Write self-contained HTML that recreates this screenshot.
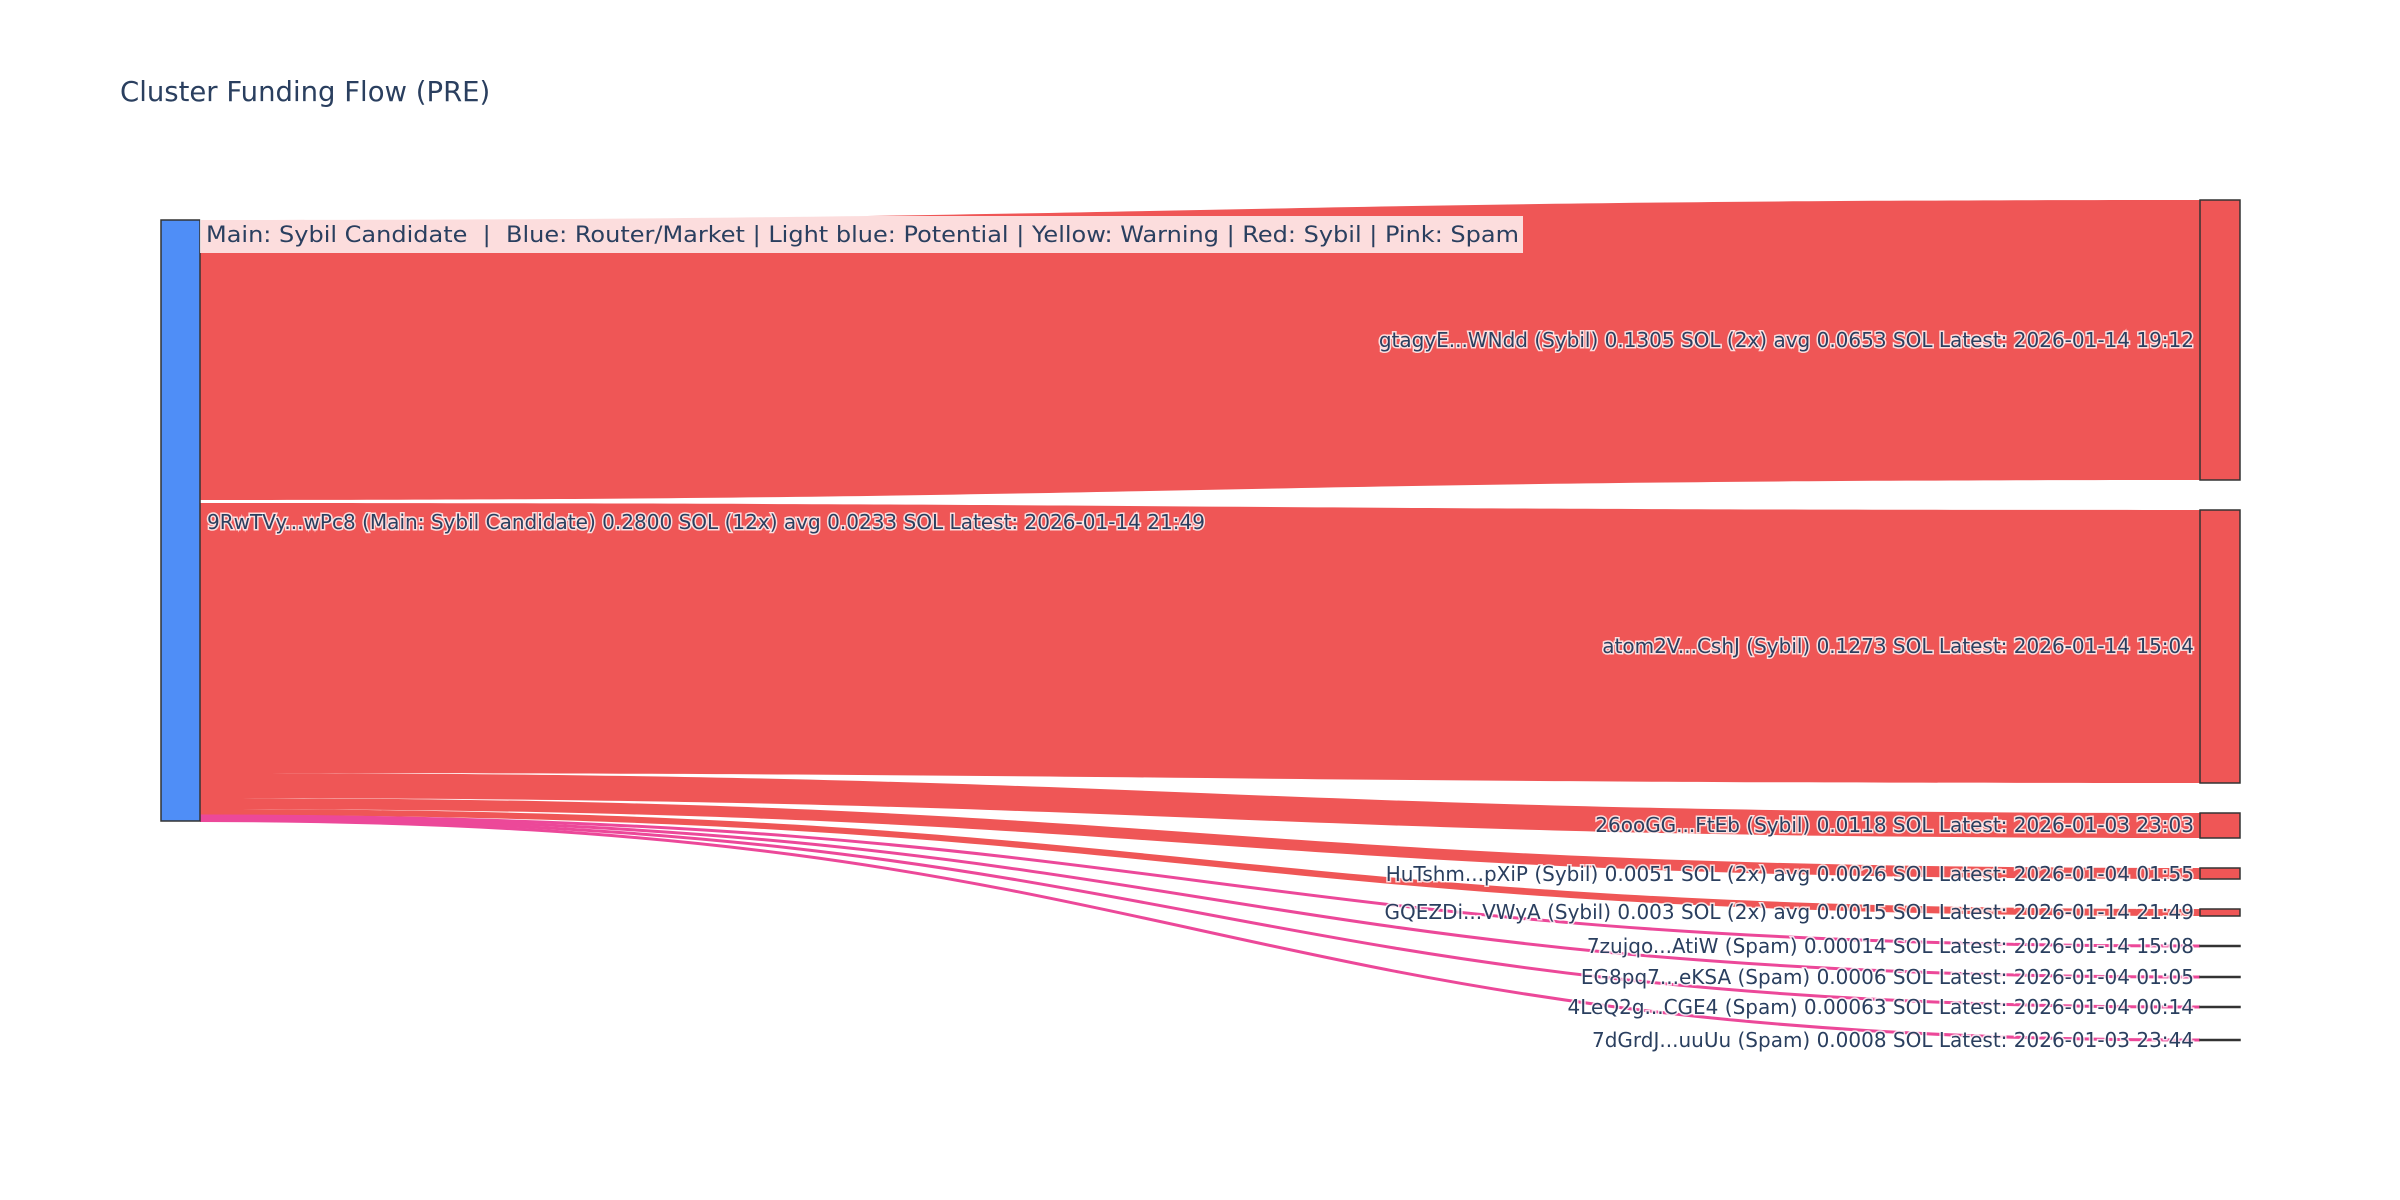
<!DOCTYPE html>
<html><head><meta charset="utf-8"><style>
html,body{margin:0;padding:0;background:#fff;}
svg{display:block;}
text{font-family:"DejaVu Sans","Liberation Sans",sans-serif;fill:#2a3f5f;white-space:pre;}
.lbl{font-size:20px;paint-order:stroke;stroke:#fff;stroke-width:3px;stroke-opacity:0.8;}
</style></head><body>
<svg width="2400" height="1200" viewBox="0 0 2400 1200" xmlns="http://www.w3.org/2000/svg" xml:space="preserve">
<rect width="2400" height="1200" fill="#fff"/>
<text x="120" y="101" font-size="27.5">Cluster Funding Flow (PRE)</text>
<g fill="#EF5656">
<path d="M200,220 C1200,220 1200,200 2200,200 L2200,480 C1200,480 1200,500 200,500 Z"/>
<path d="M200,503 C1200,503 1200,510 2200,510 L2200,783 C1200,783 1200,773 200,773 Z"/>
<path d="M200,773 C1200,773 1200,813 2200,813 L2200,838 C1200,838 1200,798 200,798 Z"/>
<path d="M200,798 C1200,798 1200,868 2200,868 L2200,879 C1200,879 1200,809 200,809 Z"/>
<path d="M200,809 C1200,809 1200,909 2200,909 L2200,916 C1200,916 1200,815 200,815 Z"/>
</g>
<g fill="none" stroke="#EC4899" stroke-width="3">
<path d="M200,816 C1200,816 1200,946 2200,946"/>
<path d="M200,817.5 C1200,817.5 1200,977 2200,977"/>
<path d="M200,819 C1200,819 1200,1007 2200,1007"/>
<path d="M200,820.5 C1200,820.5 1200,1040 2200,1040"/>
</g>
<g stroke="#333" stroke-width="1.5">
<rect x="161" y="220" width="39" height="601" fill="#4F8EF7"/>
<rect x="2200" y="200" width="40" height="280" fill="#EF5656"/>
<rect x="2200" y="510" width="40" height="273" fill="#EF5656"/>
<rect x="2200" y="813" width="40" height="25" fill="#EF5656"/>
<rect x="2200" y="868" width="40" height="11" fill="#EF5656"/>
<rect x="2200" y="909" width="40" height="7" fill="#EF5656"/>
<rect x="2200" y="945.5" width="40" height="1" fill="#EC4899"/>
<rect x="2200" y="976.5" width="40" height="1" fill="#EC4899"/>
<rect x="2200" y="1006.5" width="40" height="1" fill="#EC4899"/>
<rect x="2200" y="1039.5" width="40" height="1" fill="#EC4899"/>
</g>
<rect x="200" y="216" width="1323" height="37" fill="#fff" fill-opacity="0.8"/>
<text x="206" y="242" font-size="22" textLength="1313" lengthAdjust="spacingAndGlyphs">Main: Sybil Candidate  |  Blue: Router/Market | Light blue: Potential | Yellow: Warning | Red: Sybil | Pink: Spam</text>
<text class="lbl" x="207" y="529" textLength="998" lengthAdjust="spacingAndGlyphs">9RwTVy...wPc8 (Main: Sybil Candidate) 0.2800 SOL (12x) avg 0.0233 SOL Latest: 2026-01-14 21:49</text>
<g text-anchor="end">
<text class="lbl" x="2194" y="347">gtagyE...WNdd (Sybil) 0.1305 SOL (2x) avg 0.0653 SOL Latest: 2026-01-14 19:12</text>
<text class="lbl" x="2194" y="653">atom2V...CshJ (Sybil) 0.1273 SOL Latest: 2026-01-14 15:04</text>
<text class="lbl" x="2194" y="832">26ooGG...FtEb (Sybil) 0.0118 SOL Latest: 2026-01-03 23:03</text>
<text class="lbl" x="2194" y="881">HuTshm...pXiP (Sybil) 0.0051 SOL (2x) avg 0.0026 SOL Latest: 2026-01-04 01:55</text>
<text class="lbl" x="2194" y="919">GQEZDi...VWyA (Sybil) 0.003 SOL (2x) avg 0.0015 SOL Latest: 2026-01-14 21:49</text>
<text class="lbl" x="2194" y="953">7zujqo...AtiW (Spam) 0.00014 SOL Latest: 2026-01-14 15:08</text>
<text class="lbl" x="2194" y="984">EG8pq7...eKSA (Spam) 0.0006 SOL Latest: 2026-01-04 01:05</text>
<text class="lbl" x="2194" y="1014">4LeQ2g...CGE4 (Spam) 0.00063 SOL Latest: 2026-01-04 00:14</text>
<text class="lbl" x="2194" y="1047">7dGrdJ...uuUu (Spam) 0.0008 SOL Latest: 2026-01-03 23:44</text>
</g>
</svg>
</body></html>
